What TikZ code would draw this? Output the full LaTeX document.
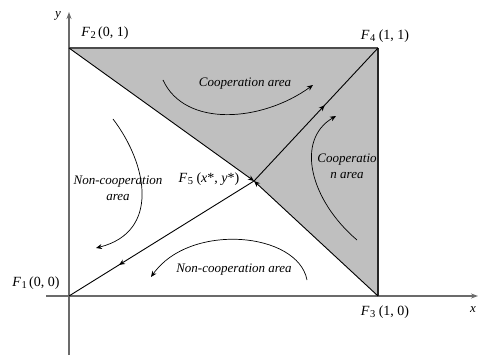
\documentclass[tikz,border=0pt]{standalone}
\usepackage{fontspec}
\setmainfont{Liberation Serif}
\usetikzlibrary{arrows.meta,decorations.markings}
\newcommand{\Fsub}[1]{\textit{F}\kern0.5pt\raisebox{-0.35ex}{\fontsize{10.5}{10.5}\selectfont #1}}
\begin{document}
\begin{tikzpicture}[x=1pt,y=-1pt,
  axisline/.style={draw=black!58,line width=1.4pt},
  diag/.style={draw=black,line width=0.9pt},
  tip/.style={-{Stealth[length=6pt,width=5pt]}},
  flow/.style={draw=black,line width=0.7pt,-{Stealth[length=6pt,width=5pt]}},
  midarrow/.style={postaction={decorate},decoration={markings,mark=at position #1 with {\arrow{Stealth[length=6pt,width=5pt]}}}},
  ptlabel/.style={font=\fontsize{14}{14}\selectfont,inner sep=0pt},
  arealabel/.style={font=\fontsize{13}{16}\selectfont\itshape,inner sep=0pt,align=center}]
\useasboundingbox (0,0) rectangle (479,358);
\coordinate (F1) at (69,296);
\coordinate (F2) at (69,48);
\coordinate (F3) at (378,296);
\coordinate (F4) at (378,48);
\coordinate (F5) at (254,181);
% shaded region
\fill[black!25] (F2) -- (F4) -- (F3) -- (F5) -- cycle;
% axes
\coordinate (xs) at (46,296);
\coordinate (xe) at (478,296);
\coordinate (ys) at (69,355);
\coordinate (ye) at (69,12);
\draw[axisline,-{Stealth[length=7pt,width=5pt]}] (xs) -- (xe);
\draw[axisline,-{Stealth[length=7pt,width=5pt]}] (ys) -- (ye);
% square edges
\draw[draw=black!70,line width=1.2pt] (F2) -- (F4);
\draw[draw=black!85,line width=1.1pt] (F4) -- (F3);
% diagonals
\draw[diag,tip] (F2) -- (F5);
\draw[diag,tip] (F3) -- (F5);
\draw[diag,midarrow=0.57] (F5) -- (F4);
\draw[diag,midarrow=0.73] (F5) -- (F1);
% flow curves
\coordinate (c1s) at (163,80);  \coordinate (c1e) at (313,85);
\draw[flow] (c1s) .. controls (185,128) and (262,122) .. (c1e);
\coordinate (c2s) at (357,240); \coordinate (c2e) at (336,116);
\draw[flow] (c2s) .. controls (310,200) and (295,140) .. (c2e);
\coordinate (c3s) at (113,119); \coordinate (c3e) at (96,248);
\draw[flow] (c3s) .. controls (148,165) and (160,232) .. (c3e);
\coordinate (c4s) at (307,280); \coordinate (c4e) at (151,277);
\draw[flow] (c4s) .. controls (298,232) and (190,222) .. (c4e);
% labels
\node[ptlabel] (lF2) at (105,33) {\Fsub{2}\,(0, 1)};
\node[ptlabel] (lF4) at (385,36) {\Fsub{4} (1, 1)};
\node[ptlabel] (lF1) at (36,283) {\Fsub{1}\,(0, 0)};
\node[ptlabel] (lF3) at (385,312) {\Fsub{3} (1, 0)};
\node[ptlabel] (lF5) at (209,179) {\Fsub{5} (\textit{x}*, \textit{y}*)};
\node[ptlabel,font=\fontsize{13}{13}\selectfont\itshape] (lx) at (473,310) {x};
\node[ptlabel,font=\fontsize{13}{13}\selectfont\itshape] (ly) at (58,16) {y};
\node[arealabel] (a1) at (245,84) {Cooperation area};
\node[arealabel] (a2) at (347,166) {Cooperatio\\n area};
\node[arealabel] (a3) at (118,188) {Non-cooperation\\area};
\node[arealabel] (a4) at (234,270) {Non-cooperation area};
\end{tikzpicture}
\end{document}
